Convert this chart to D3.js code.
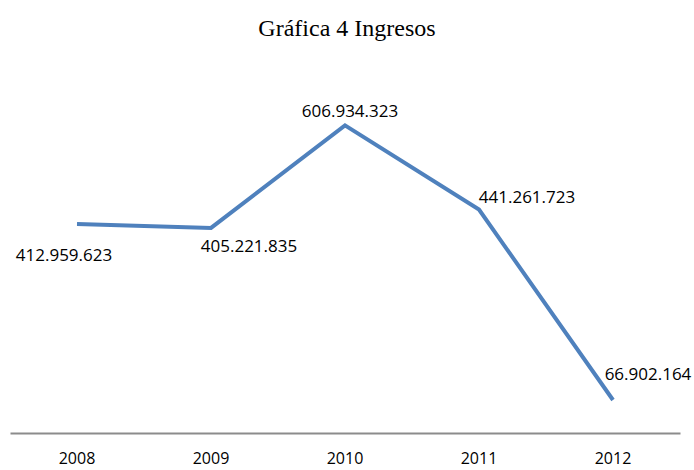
<!DOCTYPE html>
<html>
<head>
<meta charset="utf-8">
<script src="https://cdn.jsdelivr.net/npm/d3@7"></script>
<style>
  body { margin: 0; background: #fff; }
  svg { display: block; }
</style>
</head>
<body>
<svg id="chart" width="694" height="470"></svg>
<script>
const years = ['2008', '2009', '2010', '2011', '2012'];
const ingresos = [412959623, 405221835, 606934323, 441261723, 66902164];
const valueLabels = ['412.959.623', '405.221.835', '606.934.323', '441.261.723', '66.902.164'];

const width = 694;
const height = 470;
const svg = d3.select('#chart');

const x = d3.scaleBand().domain(years).range([10, 680]);
const y = d3.scaleLinear().domain([0, 700000000]).range([434, 78]);

// titulo
svg.append('text')
  .attr('x', width / 2)
  .attr('y', 36)
  .attr('text-anchor', 'middle')
  .style('font-family', '"Liberation Serif", "Times New Roman", serif')
  .style('font-size', '24px')
  .attr('fill', '#000')
  .text('Gráfica 4 Ingresos');

// eje horizontal
const xAxis = svg.append('g')
  .attr('transform', `translate(0,${y(0) - 1})`)
  .call(d3.axisBottom(x).tickSize(0).tickPadding(20));

xAxis.select('.domain').attr('stroke', '#8c8c8c').attr('stroke-width', 2);
xAxis.selectAll('text')
  .style('font-family', '"Open Sans", sans-serif')
  .style('font-size', '16px')
  .attr('fill', '#000');

const data = years.map((yr, i) => ({ year: yr, value: ingresos[i], label: valueLabels[i] }));
const cx = (d) => x(d.year) + x.bandwidth() / 2;

const line = d3.line()
  .x(cx)
  .y((d) => y(d.value));

svg.append('path')
  .datum(data)
  .attr('fill', 'none')
  .attr('stroke', '#4f81bd')
  .attr('stroke-width', 4)
  .attr('stroke-linejoin', 'miter')
  .attr('d', line);

// desplazamiento de cada etiqueta respecto a su punto
const offsets = [[-13, 31], [38, 18], [5, -15], [48, -13], [35, -26]];

svg.append('g')
  .selectAll('text')
  .data(data)
  .join('text')
  .attr('x', (d, i) => cx(d) + offsets[i][0])
  .attr('y', (d, i) => y(d.value) + offsets[i][1])
  .attr('text-anchor', 'middle')
  .attr('dominant-baseline', 'central')
  .style('font-family', '"Open Sans", sans-serif')
  .style('font-size', '17px')
  .attr('fill', '#000')
  .text((d) => d.label);
</script>
</body>
</html>
